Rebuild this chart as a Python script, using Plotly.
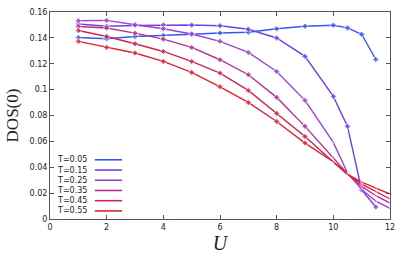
import plotly.graph_objects as go

# ---- data ----
U_grid = [1, 2, 3, 4, 5, 6, 7, 8, 9, 10, 10.5, 11, 11.5, 12]

T_labels = ["T=0.05", "T=0.15", "T=0.25", "T=0.35", "T=0.45", "T=0.55"]

dos_T005 = [0.1403, 0.1393, 0.1411, 0.1418, 0.1428, 0.1438, 0.1444, 0.1470, 0.1490, 0.1498, 0.1477, 0.1428, 0.1233]
dos_T015 = [0.1507, 0.1490, 0.1496, 0.1500, 0.1499, 0.1494, 0.1467, 0.1399, 0.1257, 0.0948, 0.0716, 0.0224, 0.0093]
dos_T025 = [0.1532, 0.1535, 0.1501, 0.1471, 0.1430, 0.1373, 0.1288, 0.1140, 0.0917, 0.0592, 0.0356, 0.0228, 0.0138, 0.0083]
dos_T035 = [0.1488, 0.1476, 0.1437, 0.1390, 0.1326, 0.1231, 0.1115, 0.0940, 0.0716, 0.0476, 0.0350, 0.0252, 0.0180, 0.0123]
dos_T045 = [0.1457, 0.1411, 0.1355, 0.1295, 0.1218, 0.1128, 0.0994, 0.0816, 0.0638, 0.0440, 0.0347, 0.0270, 0.0210, 0.0155]
dos_T055 = [0.1373, 0.1326, 0.1283, 0.1218, 0.1133, 0.1022, 0.0901, 0.0754, 0.0587, 0.0443, 0.0345, 0.0285, 0.0237, 0.0193]

series = [dos_T005, dos_T015, dos_T025, dos_T035, dos_T045, dos_T055]

x_ticks = [0, 2, 4, 6, 8, 10, 12]
y_ticks = [0, 0.02, 0.04, 0.06, 0.08, 0.1, 0.12, 0.14, 0.16]
y_ticktext = ["0", "0.02", "0.04", "0.06", "0.08", "0.1", "0.12", "0.14", "0.16"]

# ---- styles ----
colors = ["#3355f5", "#7040e4", "#9a42d0", "#b8308f", "#cc2555", "#e02233"]
small_from = [None, None, 9, 9, 9, 9]  # index from which markers are tiny

fig = go.Figure()
for vals, col, sf in zip(series, colors, small_from):
    xs = U_grid[:len(vals)]
    sizes = [5 if (sf is None or i <= sf - 1) else 2 for i in range(len(vals))]
    fig.add_trace(go.Scatter(
        x=xs, y=vals, mode="lines+markers",
        line=dict(color=col, width=1.4),
        marker=dict(symbol="diamond", size=sizes, color=col),
        showlegend=False, hoverinfo="skip",
    ))

# manual legend (text left, line sample right)
leg_y0 = 0.286
leg_dy = 0.0494
for i, (lab, col) in enumerate(zip(T_labels, colors)):
    yy = leg_y0 - i * leg_dy
    fig.add_annotation(x=0.016, y=yy, xref="paper", yref="paper",
                       text=lab, showarrow=False, xanchor="left", yanchor="middle",
                       font=dict(family="DejaVu Sans", size=8, color="#222"))
    fig.add_shape(type="line", xref="paper", yref="paper",
                  x0=0.132, x1=0.212, y0=yy, y1=yy,
                  line=dict(color=col, width=1.6))

axis_common = dict(
    showgrid=False, zeroline=False, showline=True, linecolor="#555", linewidth=1,
    mirror="ticks", ticks="inside", ticklen=4, tickcolor="#555", automargin=False,
    tickfont=dict(family="DejaVu Sans", size=8, color="#222"),
)

fig.update_layout(
    width=407, height=257,
    margin=dict(l=50, r=17, t=12, b=38),
    paper_bgcolor="white", plot_bgcolor="white",
    xaxis=dict(range=[0, 12], tickvals=x_ticks,
               title=dict(text="<i>U</i>", font=dict(family="Liberation Serif", size=20, color="#222"),
                          standoff=2),
               **axis_common),
    yaxis=dict(range=[0, 0.16], tickvals=y_ticks, ticktext=y_ticktext,
               title=dict(text="DOS(0)", font=dict(family="Liberation Serif", size=17, color="#222"),
                          standoff=6),
               **axis_common),
)

fig.write_html("out.html", config={"displayModeBar": False},
               post_script="document.body.style.margin='0';document.body.style.padding='0';")
